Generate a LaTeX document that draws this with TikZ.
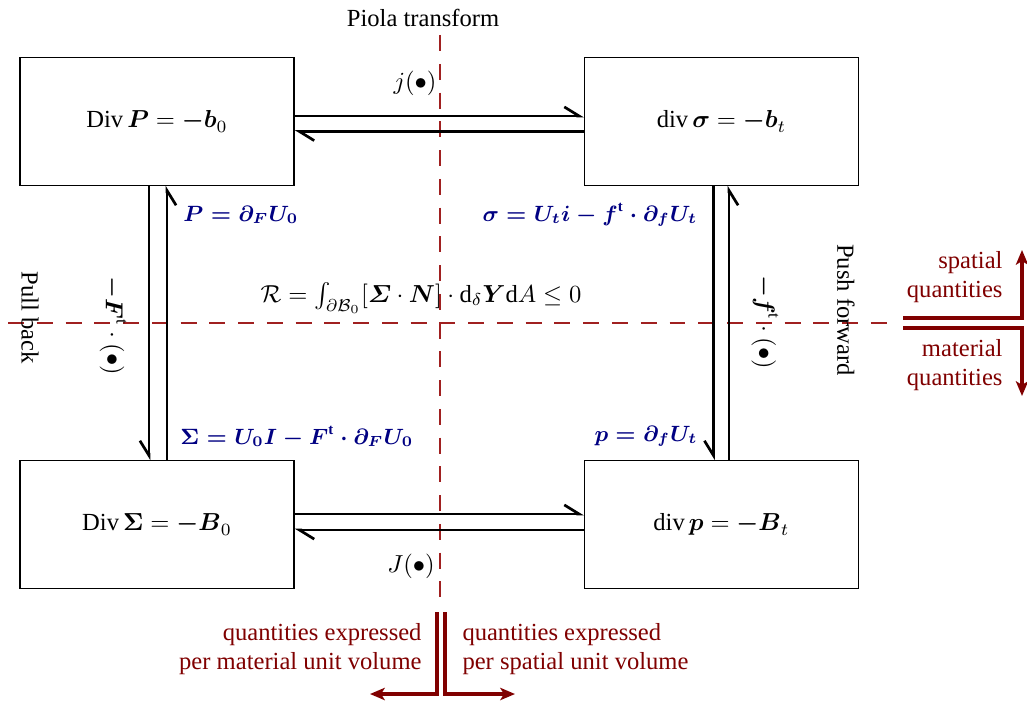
\documentclass[tikz,border=0pt]{standalone}
\usepackage{amsmath}
\usepackage{fontspec}
\setmainfont{Liberation Serif}
\usetikzlibrary{positioning, arrows.meta, calc}

\definecolor{darkred}{RGB}{128,0,0}
\definecolor{dashred}{RGB}{160,32,32}
\definecolor{navy}{RGB}{0,0,130}

\begin{document}
\begin{tikzpicture}[x=0.0143cm, y=-0.0143cm,
  eqbox/.style={draw, line width=0.5pt, minimum width=3.92cm, minimum height=1.82cm,
                inner sep=0pt},
  harpl/.style={line width=1.1pt, -{Straight Barb[left, length=6pt, width=7.4pt]}},
  harpr/.style={line width=1.1pt, -{Straight Barb[right, length=6pt, width=7.4pt]}},
  axis/.style={draw=dashred, line width=0.6pt, dash pattern=on 6.5pt off 5.2pt},
  energy/.style={text=navy, font=\fontsize{9}{11}\selectfont\boldmath, inner sep=0pt},
  maplbl/.style={inner sep=0pt},
  redarr/.style={draw=darkred, line width=1.6pt,
                 -{Stealth[length=6pt, width=5pt, inset=1.5pt]}},
  redtxt/.style={text=darkred, inner sep=0pt},
]
\useasboundingbox (0,0) rectangle (1027,701);

% ---- Axes (dashed) ----
\coordinate (vtop) at (440,35);
\coordinate (vbot) at (440,602);
\coordinate (hleft) at (8,323);
\coordinate (hright) at (892,323);
\draw[axis] (vtop) -- (vbot);
\draw[axis] (hleft) -- (hright);

% ---- Balance equations ----
\node[eqbox] (tl) at (157,121.5) {$\operatorname{Div}\boldsymbol{P} = \boldsymbol{-b}_0$};
\node[eqbox] (tr) at (721.5,121.5) {$\operatorname{div}\boldsymbol{\sigma} = \boldsymbol{-b}_t$};
\node[eqbox] (bl) at (157,524.5) {$\operatorname{Div}\boldsymbol{\Sigma} = \boldsymbol{-B}_0$};
\node[eqbox] (br) at (721.5,524.5) {$\operatorname{div}\boldsymbol{p} = \boldsymbol{-B}_t$};

% ---- Piola transforms ----
\draw[harpl] ($(tl.east)+(0,-5.5)$) -- ($(tr.west)+(0,-5.5)$);
\draw[harpl] ($(tr.west)+(0,10)$) -- ($(tl.east)+(0,10)$);
\draw[harpl] ($(bl.east)+(0,-10.5)$) -- ($(br.west)+(0,-10.5)$);
\draw[harpl] ($(br.west)+(0,5.5)$) -- ($(bl.east)+(0,5.5)$);

% ---- Pull back / push forward ----
\draw[harpr] ($(tl.south)+(-8,0)$) -- ($(bl.north)+(-8,0)$);
\draw[harpr] ($(bl.north)+(10,0)$) -- ($(tl.south)+(10,0)$);
\draw[harpr] ($(tr.south)+(-8,0)$) -- ($(br.north)+(-8,0)$);
\draw[harpr] ($(br.north)+(7.5,0)$) -- ($(tr.south)+(7.5,0)$);

% ---- Labels ----
\node (piola) at (423,18) {Piola transform};
\node[maplbl] (jtop) at (415,83) {$j(\bullet)$};
\node[maplbl] (jbot) at (411,566) {$J(\bullet)$};
\node[rotate=-90] (pull) at (30,318) {Pull back};
\node[rotate=-90] (push) at (846,310) {Push forward};
\node[rotate=-90, maplbl] (Fpull) at (113,326) {$\boldsymbol{-F}^{\mathrm{t}}\cdot(\bullet)$};
\node[rotate=-90, maplbl] (fpush) at (765,322) {$\boldsymbol{-f}^{\mathrm{t}}\cdot(\bullet)$};

\node[energy, anchor=west] (eP) at (183,215) {$P = \partial_F U_0$};
\node[energy, anchor=west] (eS) at (180,437) {$\Sigma = U_0 I - F^{\mathrm{t}}\cdot\partial_F U_0$};
\node[energy, anchor=west] (es) at (482,215) {$\sigma = U_t i - f^{\mathrm{t}}\cdot\partial_f U_t$};
\node[energy, anchor=west] (ep) at (594,436) {$p = \partial_f U_t$};

\node[maplbl] (diss) at (421,298)
  {$\mathcal{R} = \int_{\partial\mathcal{B}_0}[\boldsymbol{\varSigma}\cdot\boldsymbol{N}]\cdot
   \mathrm{d}_\delta\boldsymbol{Y}\mathrm{d}A \leq 0$};

% ---- Spatial / material legend ----
\coordinate (sp0) at (903,318);
\coordinate (sp1) at (1022,250);
\coordinate (ma0) at (903,328);
\coordinate (ma1) at (1022,396);
\draw[redarr] (sp0) -| (sp1);
\draw[redarr] (ma0) -| (ma1);
\node[redtxt, align=right, anchor=east] (sptxt) at (1003,277) {spatial\\quantities};
\node[redtxt, align=right, anchor=east] (matxt) at (1003,365) {material\\quantities};

\coordinate (mv0) at (437,612);
\coordinate (mv1) at (370,694);
\coordinate (sv0) at (445,612);
\coordinate (sv1) at (515,694);
\draw[redarr] (mv0) |- (mv1);
\draw[redarr] (sv0) |- (sv1);
\node[redtxt, align=right, anchor=east] (mvtxt) at (422,649)
  {quantities expressed\\per material unit volume};
\node[redtxt, align=left, anchor=west] (svtxt) at (462,649)
  {quantities expressed\\per spatial unit volume};

\end{tikzpicture}
\end{document}
